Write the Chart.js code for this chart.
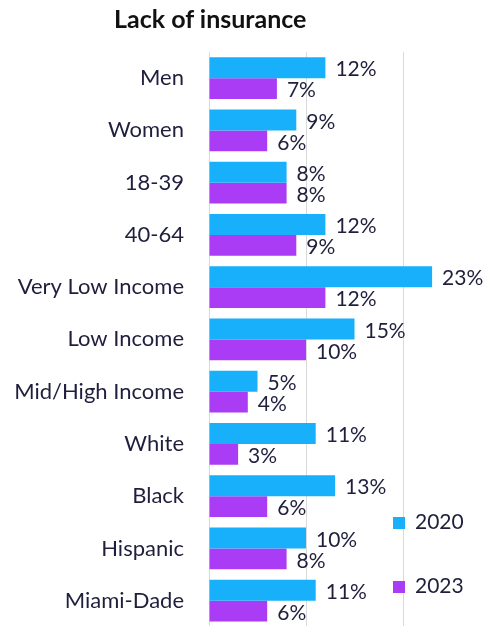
<!DOCTYPE html>
<html>
<head>
<meta charset="utf-8">
<script src="https://cdn.jsdelivr.net/npm/chart.js@4.4.0/dist/chart.umd.min.js"></script>
<style>
  html, body { margin: 0; padding: 0; background: #fff; overflow: hidden; }
  #wrap { position: relative; width: 505px; height: 665px; }
  #title {
    position: absolute; left: 114px; top: 3px;
    font: bold 25px Lato, sans-serif; color: #111;
  }
  .leg { position: absolute; left: 393px; font: 21px Lato, sans-serif; color: #1f1e3d; }
  .leg span { display: inline-block; width: 12px; height: 12px; margin-right: 10px; }
</style>
</head>
<body>
<div id="wrap">
  <canvas id="chart" width="505" height="665"></canvas>
  <div id="title">Lack of insurance</div>
  <div class="leg" style="top:508px"><span style="background:#18b0fa"></span>2020</div>
  <div class="leg" style="top:572px"><span style="background:#aa3cf5"></span>2023</div>
</div>
<script>
const CATEGORIES = ['Men', 'Women', '18-39', '40-64', 'Very Low Income', 'Low Income',
  'Mid/High Income', 'White', 'Black', 'Hispanic', 'Miami-Dade'];
const VALUES_2020 = [12, 9, 8, 12, 23, 15, 5, 11, 13, 10, 11];
const VALUES_2023 = [7, 6, 8, 9, 12, 10, 4, 3, 6, 8, 6];
const X_TICKS = [0, 10, 20, 30];

const TEXT_COLOR = '#1f1e3d';
const GRID_COLOR = '#d9d9d9';

const valueLabels = {
  id: 'valueLabels',
  afterDatasetsDraw(chart) {
    const ctx = chart.ctx;
    ctx.save();
    ctx.font = '21px Lato, sans-serif';
    ctx.fillStyle = TEXT_COLOR;
    ctx.textBaseline = 'middle';
    ctx.textAlign = 'left';
    chart.data.datasets.forEach((ds, di) => {
      chart.getDatasetMeta(di).data.forEach((bar, i) => {
        ctx.fillText(ds.data[i] + '%', bar.x + 10, bar.y + 2);
      });
    });
    ctx.restore();
  },
};

new Chart(document.getElementById('chart').getContext('2d'), {
  type: 'bar',
  data: {
    labels: CATEGORIES,
    datasets: [
      { label: '2020', data: VALUES_2020, backgroundColor: '#18b0fa' },
      { label: '2023', data: VALUES_2023, backgroundColor: '#aa3cf5' },
    ],
  },
  options: {
    indexAxis: 'y',
    responsive: false,
    animation: false,
    categoryPercentage: 0.8,
    barPercentage: 1.0,
    layout: { padding: { top: 52, bottom: 12, left: 0, right: 5 } },
    plugins: { legend: { display: false }, tooltip: { enabled: false } },
    scales: {
      x: {
        min: 0, max: 30,
        afterBuildTicks: s => { s.ticks = X_TICKS.map(v => ({ value: v })); },
        afterFit: s => { s.height = 0; },
        ticks: { display: false },
        grid: { color: GRID_COLOR, lineWidth: 1, drawTicks: false },
        border: { display: false },
      },
      y: {
        afterFit: s => { s.width = 209; },
        ticks: { color: TEXT_COLOR, font: { family: 'Lato', size: 22 }, padding: 25 },
        grid: { display: false, drawTicks: false },
        border: { color: GRID_COLOR },
      },
    },
  },
  plugins: [valueLabels],
});
</script>
</body>
</html>
